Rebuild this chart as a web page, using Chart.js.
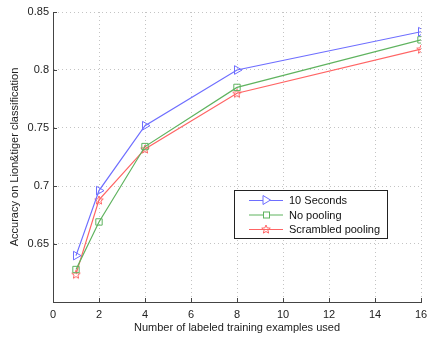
<!DOCTYPE html>
<html>
<head>
<meta charset="utf-8">
<script src="https://cdn.jsdelivr.net/npm/chart.js@4.4.0/dist/chart.umd.min.js"></script>
<style>
  html, body { margin: 0; padding: 0; background: #fff; }
  canvas { display: block; }
</style>
</head>
<body>
<canvas id="chart" width="427" height="339"></canvas>
<script>
// DATA
const trainSizes = [1, 2, 4, 8, 16];
const tenSeconds = [0.640, 0.696, 0.752, 0.800, 0.833];
const noPooling = [0.628, 0.669, 0.734, 0.785, 0.826];
const scrambledPooling = [0.624, 0.688, 0.732, 0.780, 0.818];
const seriesNames = ['10 Seconds', 'No pooling', 'Scrambled pooling'];
const xTicks = [0, 2, 4, 6, 8, 10, 12, 14, 16];
const yTicks = [0.6, 0.65, 0.7, 0.75, 0.8, 0.85];

const BLUE = '#6e6eff', GREEN = '#5fb35f', RED = '#ff6464';
const FONT = 'Liberation Sans, Arial, Helvetica, sans-serif';

// pentagram outline, used as pointStyle (matlab style)
function starImage(color){
  const c = document.createElement('canvas');
  c.width = 12; c.height = 12;
  const g = c.getContext('2d');
  g.strokeStyle = color; g.lineWidth = 1;
  g.beginPath();
  for(let i=0;i<10;i++){
    const r = i%2===0 ? 4.5 : 2;
    const a = -Math.PI/2 + i*Math.PI/5;
    const px = 6 + r*Math.cos(a), py = 6.5 + r*Math.sin(a);
    if(i===0) g.moveTo(px,py); else g.lineTo(px,py);
  }
  g.closePath(); g.stroke();
  return c;
}
const redStar = starImage(RED);

const toPts = arr => trainSizes.map((x,i)=>({x:x, y:arr[i]}));

// inward ticks + legend box
const extras = {
  id: 'extras',
  afterDraw(chart){
    const ctx = chart.ctx, xs = chart.scales.x, ys = chart.scales.y;
    const a = chart.chartArea;
    ctx.save();
    ctx.strokeStyle = '#444'; ctx.lineWidth = 1;
    ctx.beginPath();
    xTicks.forEach(v=>{ const px = Math.round(xs.getPixelForValue(v))+0.5; ctx.moveTo(px, a.bottom); ctx.lineTo(px, a.bottom-4); });
    yTicks.forEach(v=>{ const py = Math.round(ys.getPixelForValue(v))+0.5; ctx.moveTo(a.left, py); ctx.lineTo(a.left+4, py); });
    ctx.stroke();

    // legend
    const lx = 234.5, ly = 190.5, lw = 153, lh = 48;
    ctx.fillStyle = '#fff'; ctx.fillRect(lx, ly, lw, lh);
    ctx.strokeStyle = '#222'; ctx.strokeRect(lx, ly, lw, lh);
    const colors = [BLUE, GREEN, RED];
    ctx.font = '11px ' + FONT; ctx.textBaseline = 'middle'; ctx.textAlign = 'left';
    seriesNames.forEach((name,i)=>{
      const y = 200 + i*14.5;
      ctx.strokeStyle = colors[i];
      ctx.beginPath(); ctx.moveTo(249, y+0.5); ctx.lineTo(283, y+0.5); ctx.stroke();
      const mx = 266;
      if(i===0){
        ctx.fillStyle = '#fff';
        ctx.beginPath(); ctx.moveTo(mx-3, y-4.5); ctx.lineTo(mx+4.5, y); ctx.lineTo(mx-3, y+4.5); ctx.closePath(); ctx.fill(); ctx.stroke();
      } else if(i===1){
        ctx.fillStyle = '#fff';
        ctx.fillRect(mx-2.5, y-2.5, 6, 6); ctx.strokeRect(mx-2.5, y-2.5, 6, 6);
      } else {
        ctx.drawImage(redStar, mx-6, y-6);
      }
      ctx.fillStyle = '#111';
      ctx.fillText(name, 289, y+1);
    });
    ctx.restore();
  }
};

const gridColor = ctx => (ctx.tick && (ctx.tick.value === 0 || Math.abs(ctx.tick.value-0.6) < 1e-9)) ? 'rgba(0,0,0,0)' : '#c4c4c4';

new Chart(document.getElementById('chart'), {
  type: 'line',
  data: {
    datasets: [
      { label: seriesNames[0], data: toPts(tenSeconds), borderColor: BLUE, backgroundColor: 'rgba(0,0,0,0)',
        pointStyle: 'triangle', rotation: 90, pointRadius: 5, pointBorderColor: BLUE, pointBorderWidth: 1 },
      { label: seriesNames[1], data: toPts(noPooling), borderColor: GREEN, backgroundColor: 'rgba(0,0,0,0)',
        pointStyle: 'rect', pointRadius: 4.5, pointBorderColor: GREEN, pointBorderWidth: 1 },
      { label: seriesNames[2], data: toPts(scrambledPooling), borderColor: RED, backgroundColor: 'rgba(0,0,0,0)',
        pointStyle: redStar, pointRadius: 5 }
    ]
  },
  options: {
    responsive: false,
    animation: false,
    elements: { line: { borderWidth: 1.2, tension: 0 } },
    layout: { padding: { top: 12, right: 6, left: 0, bottom: 0 } },
    plugins: { legend: { display: false }, tooltip: { enabled: false } },
    scales: {
      x: {
        type: 'linear', min: 0, max: 16,
        afterBuildTicks: s => { s.ticks = xTicks.map(v=>({value:v})); },
        afterFit: s => { s.height = 37; s.paddingRight = 6; s.paddingLeft = 0; },
        grid: { color: gridColor, drawTicks: false, lineWidth: 1 },
        border: { color: '#444', dash: [1,3], display: true },
        ticks: { color: '#222', font: { family: FONT, size: 11 }, padding: 6, maxRotation: 0 },
        title: { display: true, text: 'Number of labeled training examples used', color: '#222',
                 font: { family: FONT, size: 11 }, padding: { top: 0, bottom: 4 } }
      },
      y: {
        min: 0.6, max: 0.85,
        afterBuildTicks: s => { s.ticks = yTicks.map(v=>({value:v})); },
        afterFit: s => { s.width = 53; s.paddingTop = 0; s.paddingBottom = 0; },
        grid: { color: gridColor, drawTicks: false, lineWidth: 1 },
        border: { color: '#444', dash: [1,3], display: true },
        ticks: { color: '#222', font: { family: FONT, size: 11 }, padding: 4,
                 callback: v => Math.abs(v-0.6) < 1e-9 ? '' : String(+v.toFixed(2)) },
        title: { display: true, text: 'Accuracy on Lion&tiger classification', color: '#222',
                 font: { family: FONT, size: 11 }, padding: { top: 8, bottom: 2 } }
      }
    }
  },
  plugins: [extras]
});
</script>
</body>
</html>
